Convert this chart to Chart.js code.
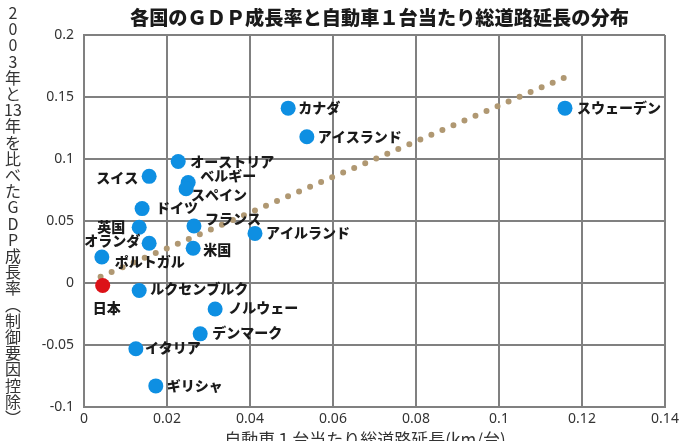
<!DOCTYPE html>
<html>
<head>
<meta charset="utf-8">
<script src="https://cdn.jsdelivr.net/npm/chart.js@4"></script>
<style>
  html, body { margin: 0; padding: 0; background: #fff; }
  canvas { display: block; }
</style>
</head>
<body>
<canvas id="chart" width="697" height="441"></canvas>
<script>
// data
const countries = ['日本', 'ポルトガル', 'オランダ', '英国', 'ドイツ', 'スイス', 'オーストリア', 'ベルギー', 'スペイン', 'フランス', '米国', 'アイルランド', 'ルクセンブルク', 'ノルウェー', 'デンマーク', 'イタリア', 'ギリシャ', 'カナダ', 'アイスランド', 'スウェーデン'];
const roadKm    = [0.0045, 0.0043, 0.0157, 0.0133, 0.0140, 0.0157, 0.0227, 0.0251, 0.0246, 0.0265, 0.0263, 0.0412, 0.0133, 0.0316, 0.0280, 0.0125, 0.0173, 0.0492, 0.0537, 0.1159];
const gdpGrowth = [-0.002, 0.021, 0.032, 0.045, 0.060, 0.086, 0.098, 0.081, 0.076, 0.046, 0.028, 0.040, -0.006, -0.021, -0.041, -0.053, -0.083, 0.141, 0.118, 0.141];
const trendX = [0.004, 0.116];
const trendY = [0.005, 0.166];
const xTickLabels = ['0', '0.02', '0.04', '0.06', '0.08', '0.1', '0.12', '0.14'];
const yTickLabels = ['-0.1', '-0.05', '0', '0.05', '0.1', '0.15', '0.2'];

const titleText = '各国のＧＤＰ成長率と自動車１台当たり総道路延長の分布';
const xTitle = '自動車１台当たり総道路延長(km/台)';
const yTitleCells = ['2','0','0','3','年','と','13','年','を','比','べ','た','G','D','P','成','長','率','︵','制','御','要','因','控','除','︶'];

// label placement: dx, dy, align
const labelPos = {
  '日本': [4, 22, 'center'],
  'ポルトガル': [13, 5, 'left'],
  'オランダ': [-9, -3, 'right'],
  '英国': [-14, -1, 'right'],
  'ドイツ': [14, -1, 'left'],
  'スイス': [-11, 1, 'right'],
  'オーストリア': [12, 0, 'left'],
  'ベルギー': [12, -7, 'left'],
  'スペイン': [5, 6, 'left'],
  'フランス': [11, -7, 'left'],
  '米国': [10, 1, 'left'],
  'アイルランド': [11, -1, 'left'],
  'ルクセンブルク': [11, -2, 'left'],
  'ノルウェー': [13, -1, 'left'],
  'デンマーク': [12, -1, 'left'],
  'イタリア': [9, -1, 'left'],
  'ギリシャ': [11, 0, 'left'],
  'カナダ': [10, 0, 'left'],
  'アイスランド': [11, 0, 'left'],
  'スウェーデン': [12, 0, 'left']
};

const JP = '"Noto Sans CJK JP", "Noto Sans", sans-serif';
const gridColor = '#808080';

const labelsPlugin = {
  id: 'pointLabels',
  afterDatasetsDraw(chart) {
    const ctx = chart.ctx;
    const meta = chart.getDatasetMeta(1);
    ctx.save();
    ctx.font = '900 14px ' + JP;
    ctx.fillStyle = '#1a1a1a';
    ctx.textBaseline = 'middle';
    meta.data.forEach((pt, i) => {
      const p = labelPos[countries[i]] || [10, 0, 'left'];
      ctx.textAlign = p[2];
      ctx.fillText(countries[i], pt.x + p[0], pt.y + p[1]);
    });
    ctx.restore();
  }
};

const textPlugin = {
  id: 'texts',
  afterDraw(chart) {
    const ctx = chart.ctx;
    ctx.save();
    ctx.fillStyle = '#1a1a1a';
    ctx.font = '900 19.2px ' + JP;
    ctx.textAlign = 'left';
    ctx.textBaseline = 'middle';
    ctx.fillText(titleText, 130, 18);

    ctx.fillStyle = '#333';
    ctx.font = '17px ' + JP;
    ctx.textAlign = 'center';
    ctx.textBaseline = 'top';
    ctx.fillText(xTitle, 365, 431);

    ctx.font = '16px ' + JP;
    ctx.textBaseline = 'middle';
    yTitleCells.forEach((ch, i) => {
      ctx.fillText(ch, 13, 13 + i * 16.2);
    });
    ctx.restore();
  }
};

new Chart(document.getElementById('chart'), {
  type: 'scatter',
  data: {
    datasets: [
      {
        type: 'line',
        data: trendX.map((x, i) => ({x: x, y: trendY[i]})),
        borderColor: '#b09872',
        borderWidth: 6,
        borderDash: [0, 12],
        borderCapStyle: 'round',
        pointRadius: 0,
        fill: false,
        order: 2
      },
      {
        data: roadKm.map((x, i) => ({x: x, y: gdpGrowth[i]})),
        pointBackgroundColor: countries.map(c => c === '日本' ? '#dc1218' : '#0e8fe2'),
        pointBorderWidth: 0,
        pointRadius: 7.5,
        pointHoverRadius: 7.5,
        order: 1
      }
    ]
  },
  options: {
    responsive: false,
    animation: false,
    layout: { padding: { left: 0, top: 35, right: 32, bottom: 0 } },
    plugins: { legend: { display: false }, tooltip: { enabled: false }, title: { display: false } },
    scales: {
      x: {
        type: 'linear',
        min: 0, max: 0.14,
        afterFit(s) { s.height = 34; },
        ticks: {
          stepSize: 0.02,
          padding: 4,
          color: '#333',
          font: { family: '"Noto Sans", sans-serif', size: 14 },
          callback: (v, i) => xTickLabels[i]
        },
        grid: { color: gridColor, lineWidth: 2, drawTicks: false },
        border: { display: true, color: gridColor, width: 2 }
      },
      y: {
        type: 'linear',
        min: -0.1, max: 0.2,
        afterFit(s) { s.width = 84; },
        ticks: {
          stepSize: 0.05,
          padding: 10,
          color: '#333',
          font: { family: '"Noto Sans", sans-serif', size: 14 },
          callback: (v, i) => yTickLabels[i]
        },
        grid: { color: gridColor, lineWidth: 2, drawTicks: false },
        border: { display: true, color: gridColor, width: 2 }
      }
    }
  },
  plugins: [labelsPlugin, textPlugin]
});
</script>
</body>
</html>
